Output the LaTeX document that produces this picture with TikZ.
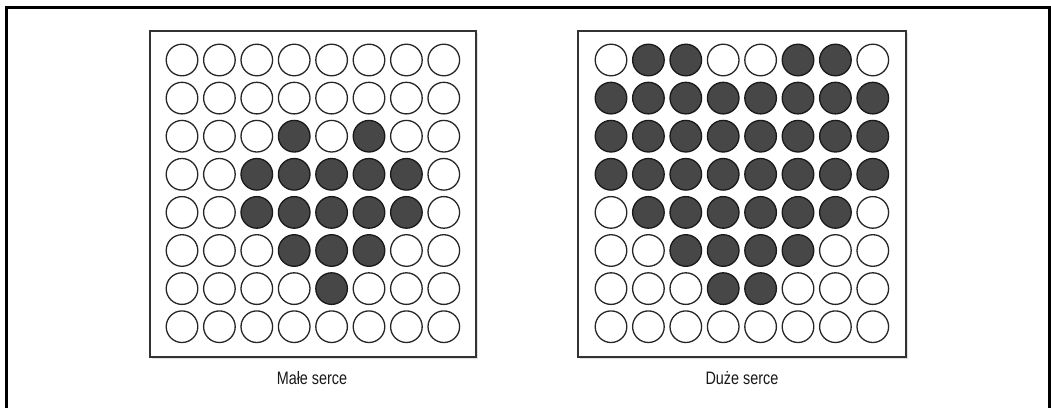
\documentclass[tikz,border=0pt]{standalone}
\usepackage{fontspec}
\setmainfont{Liberation Sans}[FakeStretch=0.8]
\begin{document}
\begin{tikzpicture}[x=1pt,y=-1pt,
  frame/.style={line width=3pt, draw=black},
  panel/.style={draw=black!80, line width=1.6pt, fill=white},
  shadow/.style={fill=black!12, draw=none},
  hole/.style={draw=black!85, line width=1.3pt, fill=white},
  lit/.style={draw=black!90, line width=1.3pt, fill=black!72},
  caption/.style={font=\fontsize{18}{21}\selectfont, text=black!90, inner sep=0pt}
]
\useasboundingbox (0,0) rectangle (1051,407);
% outer frame (bottom edge outside the picture)
\draw[frame] (6,420) -- (6,7.5) -- (1049,7.5) -- (1049,420);

% panels
\fill[shadow] (152,33) rectangle (478,359);
\draw[panel] (150,31) rectangle (476,357);
\fill[shadow] (580,33) rectangle (908,359);
\draw[panel] (578,31) rectangle (906,357);

% small heart
\foreach \row [count=\r from 0] in {
  {0,0,0,0,0,0,0,0},
  {0,0,0,0,0,0,0,0},
  {0,0,0,1,0,1,0,0},
  {0,0,1,1,1,1,1,0},
  {0,0,1,1,1,1,1,0},
  {0,0,0,1,1,1,0,0},
  {0,0,0,0,1,0,0,0},
  {0,0,0,0,0,0,0,0}}{
  \foreach \v [count=\c from 0] in \row {
    \ifnum\v=1
      \draw[lit] (182+37.4*\c, 60+38.1*\r) circle (15.8);
    \else
      \draw[hole] (182+37.4*\c, 60+38.1*\r) circle (15.8);
    \fi
  }
}

% big heart
\foreach \row [count=\r from 0] in {
  {0,1,1,0,0,1,1,0},
  {1,1,1,1,1,1,1,1},
  {1,1,1,1,1,1,1,1},
  {1,1,1,1,1,1,1,1},
  {0,1,1,1,1,1,1,0},
  {0,0,1,1,1,1,0,0},
  {0,0,0,1,1,0,0,0},
  {0,0,0,0,0,0,0,0}}{
  \foreach \v [count=\c from 0] in \row {
    \ifnum\v=1
      \draw[lit] (611+37.4*\c, 60+38.1*\r) circle (15.8);
    \else
      \draw[hole] (611+37.4*\c, 60+38.1*\r) circle (15.8);
    \fi
  }
}

\node[caption] (capsmall) at (312,378) {Małe serce};
\node[caption] (capbig) at (742,378) {Duże serce};
\end{tikzpicture}
\end{document}
